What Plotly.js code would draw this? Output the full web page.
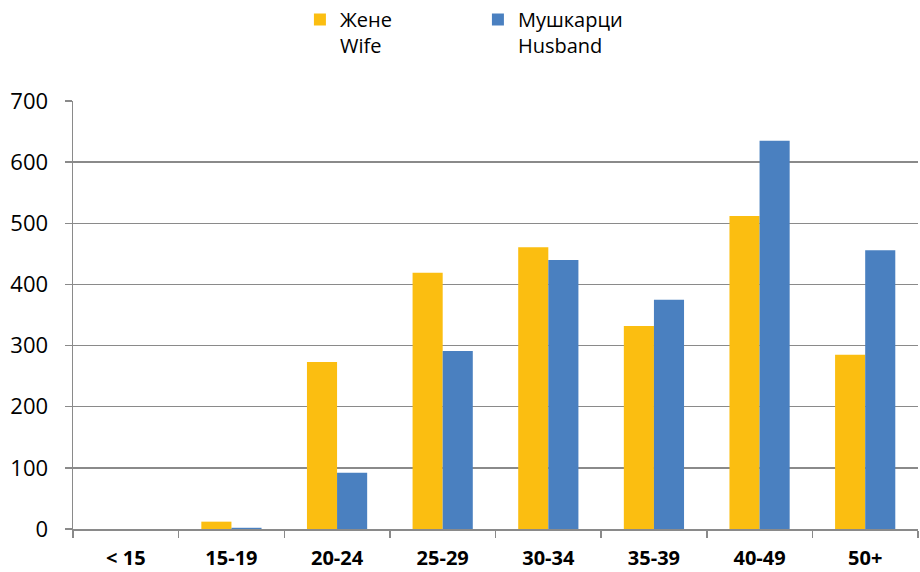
<!DOCTYPE html>
<html>
<head>
<meta charset="utf-8">
<script src="https://cdn.plot.ly/plotly-3.0.1.min.js"></script>
<style>html,body{margin:0;padding:0;background:#fff;}#chart{width:920px;height:572px;}</style>
</head>
<body>
<div id="chart"></div>
<script>
const categories = ["< 15", "15-19", "20-24", "25-29", "30-34", "35-39", "40-49", "50+"];
const wifeValues = [0, 12, 273, 419, 461, 332, 512, 285];
const husbandValues = [0, 2, 92, 291, 440, 375, 635, 456];
const yTicks = [0, 100, 200, 300, 400, 500, 600, 700];
const seriesNames = ["Жене<br>Wife", "Мушкарци<br>Husband"];

const data = [
  {type: "bar", x: categories, y: wifeValues, name: seriesNames[0],
   marker: {color: "#FBBE11"}},
  {type: "bar", x: categories, y: husbandValues, name: seriesNames[1],
   marker: {color: "#4A80C0"}}
];

const layout = {
  width: 920, height: 572,
  margin: {l: 73, r: 2, t: 101, b: 43},
  paper_bgcolor: "#fff", plot_bgcolor: "#fff",
  font: {family: "Open Sans, sans-serif", color: "#000"},
  barmode: "group", bargap: 0.43, bargroupgap: 0,
  showlegend: true,
  legend: {
    orientation: "h", xref: "container", yref: "container",
    x: 0.326, xanchor: "left", y: 1.0, yanchor: "top",
    valign: "top", font: {size: 20, family: "Open Sans, sans-serif"},
    entrywidth: 133, itemwidth: 30, traceorder: "normal"
  },
  xaxis: {
    type: "category", tickson: "boundaries",
    ticks: "outside", ticklen: 7, tickcolor: "#8a8a8a", tickwidth: 1.5,
    showline: true, linecolor: "#8a8a8a", linewidth: 1.5,
    showgrid: false, ticklabelstandoff: 10,
    tickfont: {size: 20, family: "Open Sans, sans-serif", weight: "bold"}
  },
  yaxis: {
    range: [0, 700], tickvals: yTicks, ticktext: yTicks.map(String),
    ticks: "outside", ticklen: 7, tickcolor: "#8a8a8a", tickwidth: 1.5,
    showline: true, linecolor: "#8a8a8a", linewidth: 1.5,
    showgrid: true, gridcolor: "#8a8a8a", gridwidth: 1.5,
    zeroline: false, ticklabelstandoff: 12,
    tickfont: {size: 22, family: "Open Sans, sans-serif"}
  }
};

Plotly.newPlot("chart", data, layout, {displayModeBar: false, staticPlot: true});
</script>
</body>
</html>
